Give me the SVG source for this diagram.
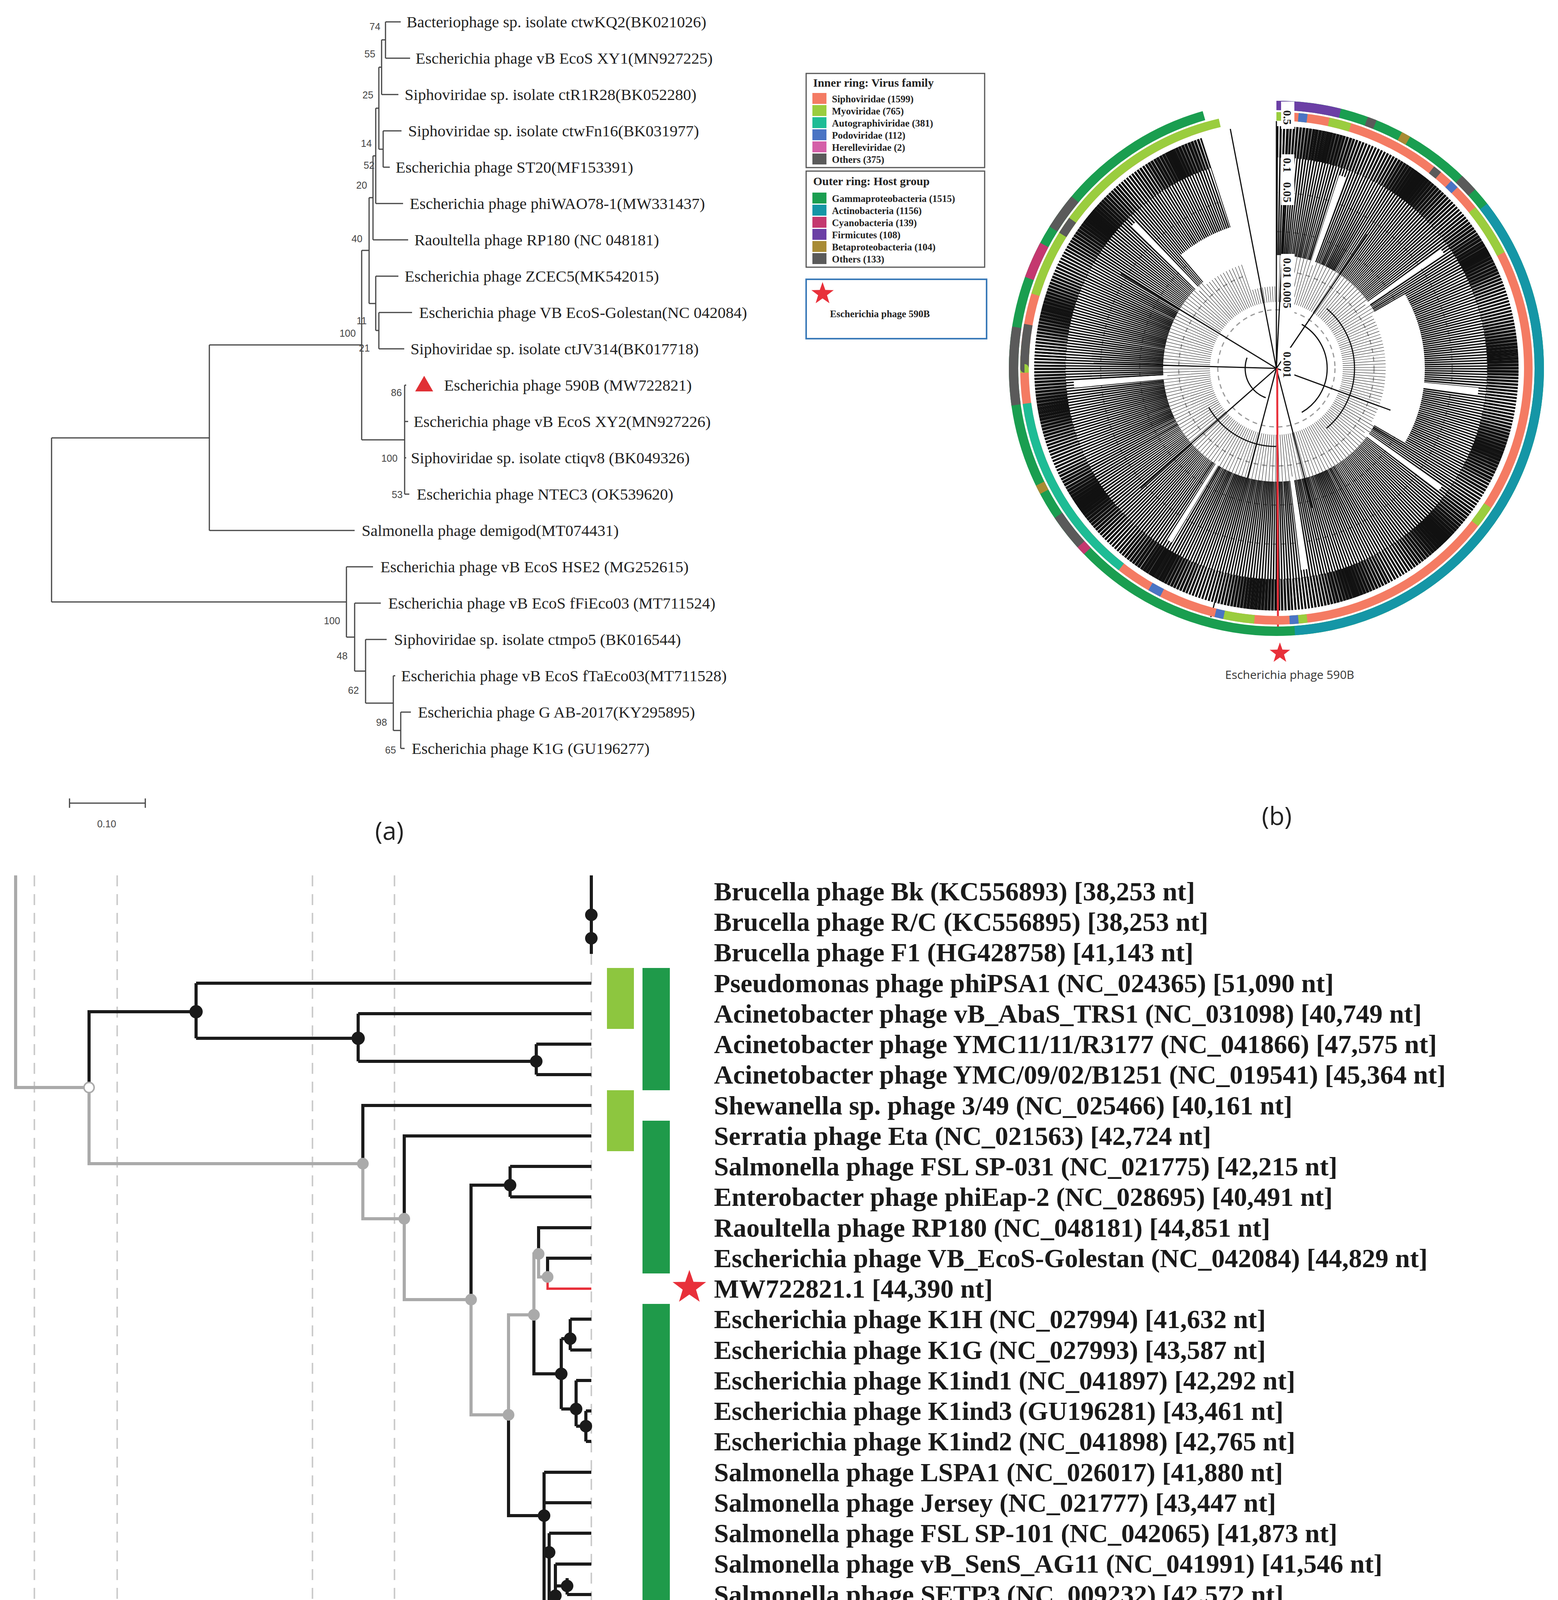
<svg xmlns="http://www.w3.org/2000/svg" width="3989" height="4357" viewBox="0 0 3989 4357">
<style>
.ta{font-family:"Liberation Serif",serif;font-size:41px;fill:#222}
.bs{font-family:"Liberation Sans",sans-serif;font-size:25px;fill:#444;text-anchor:middle}
.tr{stroke:#444;stroke-width:3;fill:none}
.pl{font-family:"Open Sans",sans-serif;font-size:64px;fill:#222;text-anchor:middle}
.lg{font-family:"Liberation Serif",serif;font-weight:bold;font-size:25px;fill:#222}
.lt{font-family:"Liberation Serif",serif;font-weight:bold;font-size:30px;fill:#222}
.tc{font-family:"Liberation Serif",serif;font-weight:bold;font-size:68px;fill:#1a1a1a}
.bk{stroke:#1a1a1a;stroke-width:8;fill:none}
.gy{stroke:#aaa;stroke-width:8;fill:none}
.rg{fill:none;stroke-width:22}
.ro{fill:none;stroke-width:24}
.dc{fill:none;stroke:#999;stroke-width:3;stroke-dasharray:12 10}
.sc{font-family:"Liberation Serif",serif;font-weight:bold;font-size:30px;fill:#222}
</style>
<defs>
<path id="star" d="M0,-50 L11.8,-16.2 47.6,-15.5 19,6.2 29.4,40.5 0,20 -29.4,40.5 -19,6.2 -47.6,-15.5 -11.8,-16.2Z" fill="#e8303a"/>
</defs>
<rect width="3989" height="4357" fill="#fff"/>

<!-- Panel a -->
<g id="panel-a-connectors" class="tr">
<path d="M987,56V149M977,102V242M981,335V428M970,172V382M962,277V521M955,399V614M970,800V893M962,707V846M945,506V777M1036,986V1265M926,641V1126M536,883V1358M132,1121V1541M1026,1823V1916M1007,1730V1870M936,1637V1800M908,1544V1718M887,1451V1631"/>
<path d="M977,102H987M970,172H977M970,382H981M962,277H970M955,399H962M945,506H955M962,846H970M945,777H962M926,641H945M926,1126H1036M536,883H926M132,1121H536M1007,1870H1026M936,1800H1007M908,1718H936M887,1631H908M132,1541H887"/>
<path d="M987,56H1026M987,149H1050M977,242H1020M981,335H1028M981,428H998M962,521H1032M955,614H1045M962,707H1020M970,800H1055M970,893H1035M1036,986H1040M1036,1079H1045M1036,1172H1040M1036,1265H1048M536,1358H908M887,1451H955M908,1544H975M936,1637H990M1007,1730H1012M1026,1823H1052M1026,1916H1036"/>
</g>
<g id="panel-a-labels">
<text class="ta" x="1041" y="70">Bacteriophage sp. isolate ctwKQ2(BK021026)</text>
<text class="ta" x="1064" y="163">Escherichia phage vB EcoS XY1(MN927225)</text>
<text class="ta" x="1036" y="256">Siphoviridae sp. isolate ctR1R28(BK052280)</text>
<text class="ta" x="1045" y="349">Siphoviridae sp. isolate ctwFn16(BK031977)</text>
<text class="ta" x="1013" y="442">Escherichia phage ST20(MF153391)</text>
<text class="ta" x="1049" y="535">Escherichia phage phiWAO78-1(MW331437)</text>
<text class="ta" x="1061" y="628">Raoultella phage RP180 (NC 048181)</text>
<text class="ta" x="1036" y="721">Escherichia phage ZCEC5(MK542015)</text>
<text class="ta" x="1073" y="814">Escherichia phage VB EcoS-Golestan(NC 042084)</text>
<text class="ta" x="1051" y="907">Siphoviridae sp. isolate ctJV314(BK017718)</text>
<polygon points="1086,962 1063,1002 1109,1002" fill="#e03035"/>
<text class="ta" x="1137" y="1000">Escherichia phage 590B (MW722821)</text>
<text class="ta" x="1059" y="1093">Escherichia phage vB EcoS XY2(MN927226)</text>
<text class="ta" x="1052" y="1186">Siphoviridae sp. isolate ctiqv8 (BK049326)</text>
<text class="ta" x="1067" y="1279">Escherichia phage NTEC3 (OK539620)</text>
<text class="ta" x="926" y="1372">Salmonella phage demigod(MT074431)</text>
<text class="ta" x="974" y="1465">Escherichia phage vB EcoS HSE2 (MG252615)</text>
<text class="ta" x="994" y="1558">Escherichia phage vB EcoS fFiEco03 (MT711524)</text>
<text class="ta" x="1009" y="1651">Siphoviridae sp. isolate ctmpo5 (BK016544)</text>
<text class="ta" x="1027" y="1744">Escherichia phage vB EcoS fTaEco03(MT711528)</text>
<text class="ta" x="1070" y="1837">Escherichia phage G AB-2017(KY295895)</text>
<text class="ta" x="1054" y="1930">Escherichia phage K1G (GU196277)</text>
<text class="bs" x="960" y="77">74</text>
<text class="bs" x="947" y="147">55</text>
<text class="bs" x="942" y="252">25</text>
<text class="bs" x="938" y="376">14</text>
<text class="bs" x="945" y="432">52</text>
<text class="bs" x="926" y="483">20</text>
<text class="bs" x="914" y="620">40</text>
<text class="bs" x="926" y="830">11</text>
<text class="bs" x="890" y="862">100</text>
<text class="bs" x="933" y="900">21</text>
<text class="bs" x="1015" y="1014">86</text>
<text class="bs" x="997" y="1182">100</text>
<text class="bs" x="1017" y="1275">53</text>
<text class="bs" x="850" y="1598">100</text>
<text class="bs" x="876" y="1688">48</text>
<text class="bs" x="905" y="1776">62</text>
<text class="bs" x="977" y="1858">98</text>
<text class="bs" x="1000" y="1929">65</text>
</g>
<g id="scale-bar">
<path class="tr" d="M178,2056H372M178,2044V2068M372,2044V2068"/>
<text class="bs" x="273" y="2118">0.10</text>
</g>
<text class="pl" x="997" y="2150">(a)</text>

<!-- Panel b -->
<g id="legend-virus">
<rect x="2064" y="188" width="457" height="241" fill="#fff" stroke="#555" stroke-width="3"/>
<text class="lt" x="2082" y="222">Inner ring: Virus family</text>
<rect x="2080" y="238" width="36" height="28" fill="#f47b63"/><text class="lg" x="2130" y="262">Siphoviridae (1599)</text>
<rect x="2080" y="269" width="36" height="28" fill="#9acd3e"/><text class="lg" x="2130" y="293">Myoviridae (765)</text>
<rect x="2080" y="300" width="36" height="28" fill="#1ebc95"/><text class="lg" x="2130" y="324">Autographiviridae (381)</text>
<rect x="2080" y="331" width="36" height="28" fill="#4a74c4"/><text class="lg" x="2130" y="355">Podoviridae (112)</text>
<rect x="2080" y="362" width="36" height="28" fill="#d45fa8"/><text class="lg" x="2130" y="386">Herelleviridae (2)</text>
<rect x="2080" y="393" width="36" height="28" fill="#5a5a5a"/><text class="lg" x="2130" y="417">Others (375)</text>
</g>
<g id="legend-host">
<rect x="2064" y="438" width="457" height="246" fill="#fff" stroke="#555" stroke-width="3"/>
<text class="lt" x="2082" y="474">Outer ring: Host group</text>
<rect x="2080" y="493" width="36" height="28" fill="#1a9e50"/><text class="lg" x="2130" y="517">Gammaproteobacteria (1515)</text>
<rect x="2080" y="524" width="36" height="28" fill="#1596a6"/><text class="lg" x="2130" y="548">Actinobacteria (1156)</text>
<rect x="2080" y="555" width="36" height="28" fill="#c4386f"/><text class="lg" x="2130" y="579">Cyanobacteria (139)</text>
<rect x="2080" y="586" width="36" height="28" fill="#6b3fa5"/><text class="lg" x="2130" y="610">Firmicutes (108)</text>
<rect x="2080" y="617" width="36" height="28" fill="#a88b34"/><text class="lg" x="2130" y="641">Betaproteobacteria (104)</text>
<rect x="2080" y="648" width="36" height="28" fill="#5a5a5a"/><text class="lg" x="2130" y="672">Others (133)</text>
</g>
<g id="legend-star">
<rect x="2064" y="715" width="462" height="152" fill="#fff" stroke="#3a7ab8" stroke-width="4"/>
<use href="#star" transform="translate(2106,752) scale(0.6)"/>
<text class="lg" x="2125" y="812">Escherichia phage 590B</text>
</g>
<g id="circular-tree">
<circle class="dc" cx="3268" cy="943" r="150"/>
<circle class="dc" cx="3268" cy="943" r="250"/>
<circle class="dc" cx="3268" cy="943" r="350"/>
<circle class="dc" cx="3268" cy="943" r="450"/>
<circle class="dc" cx="3268" cy="943" r="540"/>
<g transform="rotate(-90 3268 943)">
<circle cx="3268" cy="943" r="455" fill="none" stroke="#111" stroke-width="330" pathLength="1440" stroke-dasharray="1.8 1.3"/>
<circle cx="3268" cy="943" r="580" fill="none" stroke="#111" stroke-width="80" pathLength="1440" stroke-dasharray="2 1.2"/>
<circle cx="3268" cy="943" r="230" fill="none" stroke="#111" stroke-width="120" pathLength="720" stroke-dasharray="0.5 3"/>
<circle cx="3268" cy="943" r="400" fill="none" stroke="#fff" stroke-width="240" pathLength="360" stroke-dasharray="0 18 2 34 1.5 40 2 28 1.5 44 2 38 1.5 52 2 48 1.5 50"/>
<circle cx="3268" cy="943" r="330" fill="none" stroke="#fff" stroke-width="100" pathLength="360" stroke-dasharray="0 60 60 200 40"/>
<circle cx="3268" cy="943" r="420" fill="none" stroke="#fff" stroke-width="420" pathLength="360" stroke-dasharray="0 342 18 0"/>
<circle cx="3268" cy="943" r="130" fill="none" stroke="#111" stroke-width="3" pathLength="360" stroke-dasharray="0 30 120 210"/>
<circle cx="3268" cy="943" r="200" fill="none" stroke="#111" stroke-width="3" pathLength="360" stroke-dasharray="0 40 100 40 60 120"/>
<circle cx="3268" cy="943" r="80" fill="none" stroke="#111" stroke-width="3" pathLength="360" stroke-dasharray="0 200 90 70"/>
</g>
<path d="M3268,943L3268,310M3268,943L2800,930M3268,943L2920,1250M3268,943L3100,1580M3268,943L3500,600M3268,943L3360,1300M3268,943L3300,300M3268,943L2870,700M3268,943L3560,1050M3268,943L3150,330" stroke="#111" stroke-width="3" fill="none"/>
<path d="M3270,943L3272,1620" stroke="#e8303a" stroke-width="5"/>
<g transform="rotate(-90 3268 943)">
<circle class="rg" cx="3268" cy="943" r="645" stroke="#f47b63" pathLength="360" stroke-dasharray="344 16"/>
<circle class="rg" cx="3268" cy="943" r="645" stroke="#9acd3e" pathLength="360" stroke-dasharray="0 0 4 1 2 5 5 34 12 60 5 45 4 8 8 76 6 12 60 40"/>
<circle class="rg" cx="3268" cy="943" r="645" stroke="#4a74c4" pathLength="360" stroke-dasharray="0 5 2 36 2 130 2 15 2 13 3 152"/>
<circle class="rg" cx="3268" cy="943" r="645" stroke="#1ebc95" pathLength="360" stroke-dasharray="0 218 44 98"/>
<circle class="rg" cx="3268" cy="943" r="645" stroke="#5a5a5a" pathLength="360" stroke-dasharray="0 38 2 230 10 22 4 54"/>
<circle class="rg" cx="3268" cy="943" r="645" stroke="#d45fa8" pathLength="360" stroke-dasharray="0 2 1.5 356.5"/>
<circle class="ro" cx="3268" cy="943" r="673" stroke="#1a9e50" pathLength="360" stroke-dasharray="344 16"/>
<circle class="ro" cx="3268" cy="943" r="673" stroke="#1596a6" pathLength="360" stroke-dasharray="0 52 124 184"/>
<circle class="ro" cx="3268" cy="943" r="673" stroke="#6b3fa5" pathLength="360" stroke-dasharray="14 346"/>
<circle class="ro" cx="3268" cy="943" r="673" stroke="#5a5a5a" pathLength="360" stroke-dasharray="0 20 2 22 4 178 10 26 17 23 8 50"/>
<circle class="ro" cx="3268" cy="943" r="673" stroke="#a88b34" pathLength="360" stroke-dasharray="0 28 2 212 2 116"/>
<circle class="ro" cx="3268" cy="943" r="673" stroke="#c4386f" pathLength="360" stroke-dasharray="0 226 2 62 8 62"/>
</g>
<g fill="#fff"><rect x="3280" y="260" width="34" height="70"/><rect x="3280" y="395" width="34" height="130"/><rect x="3280" y="650" width="34" height="160"/><rect x="3280" y="890" width="34" height="90"/></g>
<text class="sc" transform="translate(3286,282) rotate(90)">0.5</text>
<text class="sc" transform="translate(3286,404) rotate(90)">0.1</text>
<text class="sc" transform="translate(3286,466) rotate(90)">0.05</text>
<text class="sc" transform="translate(3286,660) rotate(90)">0.01</text>
<text class="sc" transform="translate(3286,722) rotate(90)">0.005</text>
<text class="sc" transform="translate(3286,900) rotate(90)">0.001</text>
<use href="#star" transform="translate(3277,1672) scale(0.55)"/>
<text font-family="Open Sans,sans-serif" font-size="30" fill="#333" text-anchor="middle" x="3302" y="1738">Escherichia phage 590B</text>
</g>
<text class="pl" x="3269" y="2112">(b)</text>

<!-- Panel c -->
<g id="panel-c-grid" stroke="#ccc" stroke-width="4" stroke-dasharray="28 20">
<path d="M88,2241V4225M300,2241V4225M800,2241V4225M1010,2241V4225M1514,2442V4205"/>
</g>
<g id="panel-c-connectors">
<path class="gy" d="M40,2241V2784H228M228,2784V2979H929M929,2979V3120H1035M1035,3120V3327H1206M1206,3327V3622H1302M1302,3622V3366H1367M1367,3366V3210H1379M1379,3210V3269H1402"/>
<path class="bk" d="M1514,2241V2442M228,2784V2590H502M502,2517V2658M502,2517H1514M502,2658H917M917,2595V2717M917,2595H1514M917,2717H1373M1373,2673V2751M1373,2673H1514M1373,2751H1514M929,2979V2830H1514M1035,3120V2908H1514M1206,3327V3034H1306M1306,2986V3064M1306,2986H1514M1306,3064H1514M1379,3210V3143H1514M1402,3269V3221H1514M1367,3366V3517H1437M1437,3427V3607M1437,3427H1460M1437,3607H1475M1460,3377V3456M1460,3377H1514M1460,3456H1514M1475,3534V3651M1475,3534H1514M1475,3651H1500M1500,3612V3690M1500,3612H1514M1500,3690H1514M1302,3622V3880H1393M1393,3769V4205M1393,3769H1514M1393,3847H1514M1393,3974H1406M1406,3925V4205M1406,3925H1514M1406,4085H1422M1422,4004V4205M1422,4004H1514M1422,4060H1452M1452,4040V4082M1452,4082H1514M1422,4160H1514M1422,4200H1460"/>
<path d="M1402,3269V3299H1514" stroke="#e8303a" stroke-width="6" fill="none"/>
</g>
<g id="panel-c-nodes">
<g fill="#1a1a1a">
<circle cx="1514" cy="2342" r="16"/><circle cx="1514" cy="2402" r="16"/>
<circle cx="502" cy="2590" r="17"/><circle cx="917" cy="2658" r="17"/><circle cx="1373" cy="2717" r="16"/>
<circle cx="1306" cy="3034" r="16"/><circle cx="1437" cy="3517" r="16"/><circle cx="1460" cy="3427" r="16"/>
<circle cx="1475" cy="3607" r="16"/><circle cx="1500" cy="3651" r="16"/><circle cx="1393" cy="3880" r="16"/>
<circle cx="1406" cy="3974" r="16"/><circle cx="1422" cy="4085" r="16"/><circle cx="1452" cy="4060" r="16"/><circle cx="1460" cy="4200" r="16"/>
</g>
<g fill="#aaa">
<circle cx="929" cy="2979" r="15"/><circle cx="1035" cy="3120" r="15"/><circle cx="1206" cy="3327" r="15"/>
<circle cx="1302" cy="3622" r="15"/><circle cx="1367" cy="3366" r="15"/><circle cx="1379" cy="3210" r="15"/><circle cx="1402" cy="3269" r="15"/>
</g>
<circle cx="228" cy="2784" r="13" fill="#fff" stroke="#aaa" stroke-width="4"/>
</g>
<g id="panel-c-bars">
<rect x="1554" y="2478" width="69" height="156" fill="#8dc63f"/>
<rect x="1554" y="2791" width="69" height="156" fill="#8dc63f"/>
<rect x="1645" y="2478" width="70" height="313" fill="#1f9a4a"/>
<rect x="1645" y="2869" width="70" height="391" fill="#1f9a4a"/>
<rect x="1645" y="3338" width="70" height="867" fill="#1f9a4a"/>
<use href="#star" transform="translate(1765,3296) scale(0.9)"/>
</g>
<g id="panel-c-labels" class="tc">
<text x="1828" y="2305">Brucella phage Bk (KC556893) [38,253 nt]</text>
<text x="1828" y="2383">Brucella phage R/C (KC556895) [38,253 nt]</text>
<text x="1828" y="2461">Brucella phage F1 (HG428758) [41,143 nt]</text>
<text x="1828" y="2540">Pseudomonas phage phiPSA1 (NC_024365) [51,090 nt]</text>
<text x="1828" y="2618">Acinetobacter phage vB_AbaS_TRS1 (NC_031098) [40,749 nt]</text>
<text x="1828" y="2696">Acinetobacter phage YMC11/11/R3177 (NC_041866) [47,575 nt]</text>
<text x="1828" y="2774">Acinetobacter phage YMC/09/02/B1251 (NC_019541) [45,364 nt]</text>
<text x="1828" y="2853">Shewanella sp. phage 3/49 (NC_025466) [40,161 nt]</text>
<text x="1828" y="2931">Serratia phage Eta (NC_021563) [42,724 nt]</text>
<text x="1828" y="3009">Salmonella phage FSL SP-031 (NC_021775) [42,215 nt]</text>
<text x="1828" y="3087">Enterobacter phage phiEap-2 (NC_028695) [40,491 nt]</text>
<text x="1828" y="3166">Raoultella phage RP180 (NC_048181) [44,851 nt]</text>
<text x="1828" y="3244">Escherichia phage VB_EcoS-Golestan (NC_042084) [44,829 nt]</text>
<text x="1828" y="3322">MW722821.1 [44,390 nt]</text>
<text x="1828" y="3400">Escherichia phage K1H (NC_027994) [41,632 nt]</text>
<text x="1828" y="3479">Escherichia phage K1G (NC_027993) [43,587 nt]</text>
<text x="1828" y="3557">Escherichia phage K1ind1 (NC_041897) [42,292 nt]</text>
<text x="1828" y="3635">Escherichia phage K1ind3 (GU196281) [43,461 nt]</text>
<text x="1828" y="3713">Escherichia phage K1ind2 (NC_041898) [42,765 nt]</text>
<text x="1828" y="3792">Salmonella phage LSPA1 (NC_026017) [41,880 nt]</text>
<text x="1828" y="3870">Salmonella phage Jersey (NC_021777) [43,447 nt]</text>
<text x="1828" y="3948">Salmonella phage FSL SP-101 (NC_042065) [41,873 nt]</text>
<text x="1828" y="4026">Salmonella phage vB_SenS_AG11 (NC_041991) [41,546 nt]</text>
<text x="1828" y="4105">Salmonella phage SETP3 (NC_009232) [42,572 nt]</text>
<text x="1828" y="4183">Salmonella phage SETP7 (NC_022754) [42,749 nt]</text>
</g>
<text class="pl" x="1970" y="4296">(c)</text>
</svg>
